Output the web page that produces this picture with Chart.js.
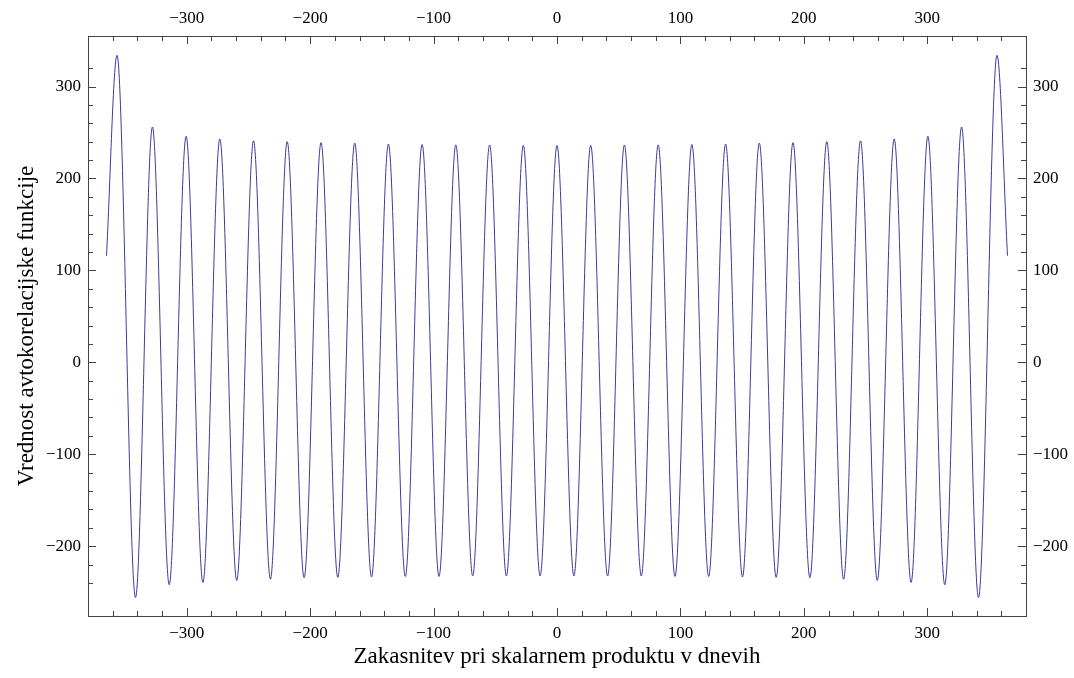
<!DOCTYPE html>
<html>
<head>
<meta charset="utf-8">
<script src="https://cdn.jsdelivr.net/npm/chart.js@4.4.0/dist/chart.umd.min.js"></script>
<style>
  html, body { margin: 0; padding: 0; background: #fff; }
  #wrap { width: 1074px; height: 678px; position: relative; }
</style>
</head>
<body>
<div id="wrap"><canvas id="acfChart"></canvas></div>
<script>
// Lag (days) of each extremum of the autocorrelation, plus the two end points
const lags = [
    -365, -356.5, -341.5, -327.8, -314.2, -300.5, -286.9, -273.2, -259.5, -245.9,
    -232.2, -218.6, -204.9, -191.2, -177.6, -163.9, -150.3, -136.6, -122.9, -109.3,
    -95.6, -82.0, -68.3, -54.6, -41.0, -27.3, -13.7, 0,
    13.7, 27.3, 41.0, 54.6, 68.3, 82.0, 95.6, 109.3, 122.9, 136.6,
    150.3, 163.9, 177.6, 191.2, 204.9, 218.6, 232.2, 245.9, 259.5, 273.2,
    286.9, 300.5, 314.2, 327.8, 341.5, 356.5, 365
];

// Value of the autocorrelation at those lags
const acfValues = [
    116, 334, -256, 256, -242, 246, -239.5, 243, -237.5, 241,
    -236, 240, -234.5, 239, -234, 238.5, -233.5, 237.5, -233, 237,
    -233, 236.5, -232.5, 236.5, -232.5, 236, -232.5, 236,
    -232.5, 236, -232.5, 236.5, -232.5, 236.5, -233, 237, -233, 237.5,
    -233.5, 238.5, -234, 239, -234.5, 240, -236, 241, -237.5, 243,
    -239.5, 246, -242, 256, -256, 334, 116
];

const xRange = [-380, 380];
const yRange = [-276, 355];
const majorStep = 100;
const minorStep = 20;

const lineColor = 'rgb(58, 58, 155)';
const frameColor = '#444';
const fontFamily = "'Liberation Serif', 'Times New Roman', serif";

function tickLabel(v) {
    if (v % majorStep !== 0) return '';
    return v < 0 ? '\u2212' + Math.abs(v) : String(v);
}

// Mathematica style ticks: drawn inside the frame, long for major, short for minor
const innerTicks = {
    id: 'innerTicks',
    afterDraw(chart) {
        const ctx = chart.ctx;
        const area = chart.chartArea;
        ctx.save();
        ctx.strokeStyle = frameColor;
        ctx.lineWidth = 1;
        ['x', 'x2'].forEach(id => {
            const s = chart.scales[id];
            const atTop = id === 'x2';
            s.ticks.forEach(t => {
                if (t.value % minorStep !== 0 || t.value <= s.min || t.value >= s.max) return;
                const px = Math.round(s.getPixelForValue(t.value)) + 0.5;
                const len = t.value % majorStep === 0 ? 8 : 5;
                const y0 = atTop ? area.top : area.bottom;
                ctx.beginPath();
                ctx.moveTo(px, y0);
                ctx.lineTo(px, atTop ? y0 + len : y0 - len);
                ctx.stroke();
            });
        });
        ['y', 'y2'].forEach(id => {
            const s = chart.scales[id];
            const atRight = id === 'y2';
            s.ticks.forEach(t => {
                if (t.value % minorStep !== 0 || t.value <= s.min || t.value >= s.max) return;
                const py = Math.round(s.getPixelForValue(t.value)) + 0.5;
                const len = t.value % majorStep === 0 ? 8 : 5;
                const x0 = atRight ? area.right : area.left;
                ctx.beginPath();
                ctx.moveTo(x0, py);
                ctx.lineTo(atRight ? x0 - len : x0 + len, py);
                ctx.stroke();
            });
        });
        ctx.restore();
    }
};

function axisBase(min, max, position, size, isX) {
    return {
        type: 'linear',
        position: position,
        min: min,
        max: max,
        grid: { display: false, drawTicks: false },
        border: { display: true, color: frameColor, width: 1 },
        ticks: {
            stepSize: minorStep,
            autoSkip: false,
            maxRotation: 0,
            padding: 7,
            color: '#000',
            font: { family: fontFamily, size: 17 },
            callback: (v) => tickLabel(v)
        },
        afterFit(scale) {
            if (isX) scale.height = size; else scale.width = size;
        }
    };
}

const xAxis = axisBase(xRange[0], xRange[1], 'bottom', 62, true);
xAxis.title = {
    display: true,
    text: 'Zakasnitev pri skalarnem produktu v dnevih',
    color: '#000',
    font: { family: fontFamily, size: 23 },
    padding: { top: 0, bottom: 7 }
};
const x2Axis = axisBase(xRange[0], xRange[1], 'top', 36, true);
const yAxis = axisBase(yRange[0], yRange[1], 'left', 88, false);
yAxis.title = {
    display: true,
    text: 'Vrednost avtokorelacijske funkcije',
    color: '#000',
    font: { family: fontFamily, size: 23 },
    padding: { top: 13, bottom: 0 }
};
const y2Axis = axisBase(yRange[0], yRange[1], 'right', 48, false);

const points = lags.map((lag, i) => ({ x: lag, y: acfValues[i] }));

new Chart(document.getElementById('acfChart').getContext('2d'), {
    type: 'line',
    data: {
        datasets: [{
            label: 'ACF',
            data: points,
            borderColor: lineColor,
            borderWidth: 1,
            pointRadius: 0,
            fill: false,
            cubicInterpolationMode: 'monotone',
            xAxisID: 'x',
            yAxisID: 'y'
        }]
    },
    options: {
        responsive: true,
        maintainAspectRatio: false,
        animation: false,
        layout: { padding: 0 },
        plugins: { legend: { display: false }, tooltip: { enabled: false } },
        scales: { x: xAxis, x2: x2Axis, y: yAxis, y2: y2Axis }
    },
    plugins: [innerTicks]
});
</script>
</body>
</html>
